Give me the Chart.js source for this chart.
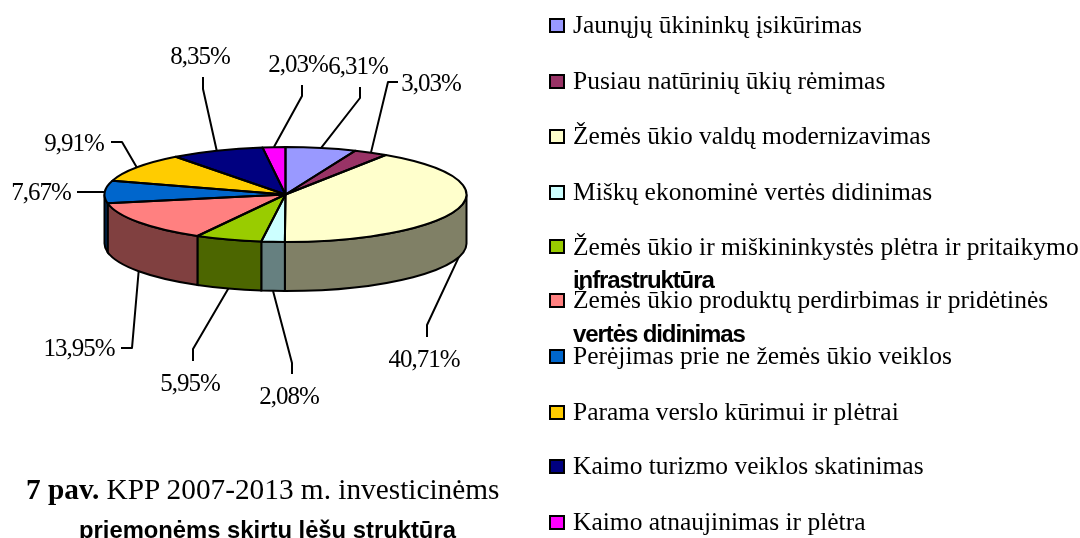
<!DOCTYPE html>
<html>
<head>
<meta charset="utf-8">
<title>KPP 2007-2013</title>
<script src="https://cdn.jsdelivr.net/npm/chart.js@4"></script>
<style>
html, body { margin: 0; padding: 0; background: #fff; overflow: hidden; }
#wrap { position: relative; width: 1080px; height: 538px; overflow: hidden; }
canvas { position: absolute; left: 0; top: 0; }
.box { position: absolute; left: 549px; width: 12px; height: 11px; border: 2px solid #000; }
.txt { position: absolute; white-space: nowrap; color: #000; line-height: 1; }
.serif { font-family: "Liberation Serif", serif; font-size: 25.5px; }
.sans { font-family: "Liberation Sans", sans-serif; font-size: 24px; font-weight: bold; letter-spacing: -1.1px; }
.caption { font-family: "Liberation Serif", serif; font-size: 29.3px; }
.caption2 { font-family: "Liberation Sans", sans-serif; font-size: 23.8px; font-weight: bold; }
</style>
</head>
<body>
<div id="wrap">
<canvas id="myChart" width="1080" height="538"></canvas>
</div>
<script>
// Data
const categories = [
    ['Jaunųjų ūkininkų įsikūrimas'],
    ['Pusiau natūrinių ūkių rėmimas'],
    ['Žemės ūkio valdų modernizavimas'],
    ['Miškų ekonominė vertės didinimas'],
    ['Žemės ūkio ir miškininkystės plėtra ir pritaikymo', 'infrastruktūra'],
    ['Žemės ūkio produktų perdirbimas ir pridėtinės', 'vertės didinimas'],
    ['Perėjimas prie ne žemės ūkio veiklos'],
    ['Parama verslo kūrimui ir plėtrai'],
    ['Kaimo turizmo veiklos skatinimas'],
    ['Kaimo atnaujinimas ir plėtra']
];
const shares = [6.31, 3.03, 40.71, 2.08, 5.95, 13.95, 7.67, 9.91, 8.35, 2.03];
const sliceColors = ['#9999FF', '#993366', '#FFFFCC', '#CCFFFF', '#99CC00', '#FF8080', '#0066CC', '#FFCC00', '#000080', '#FF00FF'];
const sideColors = ['#4C4C80', '#4C1A33', '#808066', '#668080', '#4C6600', '#804040', '#003366', '#806600', '#000040', '#800080'];

// Layout, not data
const pieCenterY = 194.5;
const pieSquash = 47.5 / 181;
const pieDepth = 49;
const legendCenterY = [25, 81, 136, 192, 246.5, 300, 356, 412, 466, 522];
const legendWrapY = { 4: 280, 5: 334 };
// elbow points and label centre for each slice's leader line
const leaders = [
    { bend: [[360, 98], [360, 87]], text: [358, 67] },
    { bend: [[388, 82], [398, 82]], text: [431, 84] },
    { bend: [[427, 325], [427, 337]], text: [424, 360] },
    { bend: [[292, 363], [292, 374]], text: [289, 397] },
    { bend: [[193, 349], [193, 361]], text: [190, 384] },
    { bend: [[132, 348], [121, 348]], text: [79, 349] },
    { bend: [[77, 192]], text: [41, 193] },
    { bend: [[122, 142], [111, 142]], text: [74, 144] },
    { bend: [[203, 89], [203, 77]], text: [200, 57] },
    { bend: [[302, 96], [302, 85]], text: [298, 65] }
];

function formatShare(v) {
    return v.toFixed(2).replace('.', ',') + '%';
}

// Walls of the cake, only the lower half of the ellipse can be seen
function drawSides(ctx, arcs) {
    arcs.forEach((arc, i) => {
        const rx = arc.outerRadius;
        const ry = rx * pieSquash;
        const from = Math.max(arc.startAngle, 0);
        const to = Math.min(arc.endAngle, Math.PI);
        if (to <= from) return;
        ctx.beginPath();
        ctx.ellipse(arc.x, pieCenterY, rx, ry, 0, from, to);
        ctx.ellipse(arc.x, pieCenterY + pieDepth, rx, ry, 0, to, from, true);
        ctx.closePath();
        ctx.fillStyle = sideColors[i];
        ctx.fill();
        ctx.strokeStyle = '#000';
        ctx.lineWidth = 2;
        ctx.stroke();
    });
}

// Outline done without the squash so the line stays the same width all round
function drawOutlines(ctx, arcs) {
    ctx.strokeStyle = '#000';
    ctx.lineWidth = 2;
    ctx.lineJoin = 'round';
    arcs.forEach(arc => {
        ctx.beginPath();
        ctx.moveTo(arc.x, pieCenterY);
        ctx.ellipse(arc.x, pieCenterY, arc.outerRadius, arc.outerRadius * pieSquash, 0, arc.startAngle, arc.endAngle);
        ctx.closePath();
        ctx.stroke();
    });
}

function drawLeaders(ctx, arcs) {
    ctx.strokeStyle = '#000';
    ctx.lineWidth = 2;
    ctx.fillStyle = '#000';
    ctx.font = '25px "Liberation Serif", serif';
    ctx.letterSpacing = '-1px';
    ctx.textAlign = 'center';
    ctx.textBaseline = 'middle';
    arcs.forEach((arc, i) => {
        const mid = (arc.startAngle + arc.endAngle) / 2;
        const front = Math.sin(mid) > 0 ? pieDepth : 0;
        const item = leaders[i];
        ctx.beginPath();
        ctx.moveTo(arc.x + Math.cos(mid) * arc.outerRadius,
            pieCenterY + front + Math.sin(mid) * arc.outerRadius * pieSquash);
        item.bend.forEach(p => ctx.lineTo(p[0], p[1]));
        ctx.stroke();
        ctx.fillText(formatShare(shares[i]), item.text[0], item.text[1]);
    });
    ctx.letterSpacing = '0px';
}

const cakePlugin = {
    id: 'cake',
    beforeDatasetsDraw(chart) {
        const ctx = chart.ctx;
        const arcs = chart.getDatasetMeta(0).data;
        drawSides(ctx, arcs);
        ctx.save();
        ctx.translate(0, pieCenterY);
        ctx.scale(1, pieSquash);
        ctx.translate(0, -arcs[0].y);
    },
    afterDatasetsDraw(chart) {
        const ctx = chart.ctx;
        const arcs = chart.getDatasetMeta(0).data;
        ctx.restore();
        drawOutlines(ctx, arcs);
        drawLeaders(ctx, arcs);
    }
};

const ctx = document.getElementById('myChart').getContext('2d');
new Chart(ctx, {
    type: 'pie',
    data: {
        labels: categories.map(c => c.join(' ')),
        datasets: [{
            data: shares,
            backgroundColor: sliceColors,
            borderWidth: 0
        }]
    },
    options: {
        responsive: false,
        animation: false,
        events: [],
        layout: { padding: { left: 104.5, right: 613.5, top: 10, bottom: 166 } },
        plugins: {
            legend: { display: false },
            tooltip: { enabled: false }
        }
    },
    plugins: [cakePlugin]
});

function addText(text, cls, left, centerY, size) {
    const el = document.createElement('div');
    el.className = 'txt ' + cls;
    el.textContent = text;
    el.style.left = left + 'px';
    el.style.top = (centerY - size / 2) + 'px';
    document.getElementById('wrap').appendChild(el);
    return el;
}

// Legend, same rows and overlaps as the picture
categories.forEach((lines, i) => {
    const box = document.createElement('div');
    box.className = 'box';
    box.style.top = (legendCenterY[i] - 7.5) + 'px';
    box.style.background = sliceColors[i];
    document.getElementById('wrap').appendChild(box);
    addText(lines[0], 'serif', 573, legendCenterY[i], 26);
    if (lines[1]) addText(lines[1], 'sans', 573, legendWrapY[i], 24);
});

// Caption
const caption = addText('', 'caption', 26, 489, 29);
caption.innerHTML = '<b>7 pav.</b> KPP 2007-2013 m. investicinėms';
addText('priemonėms skirtų lėšų struktūra', 'caption2', 79, 530, 24);
</script>
</body>
</html>
